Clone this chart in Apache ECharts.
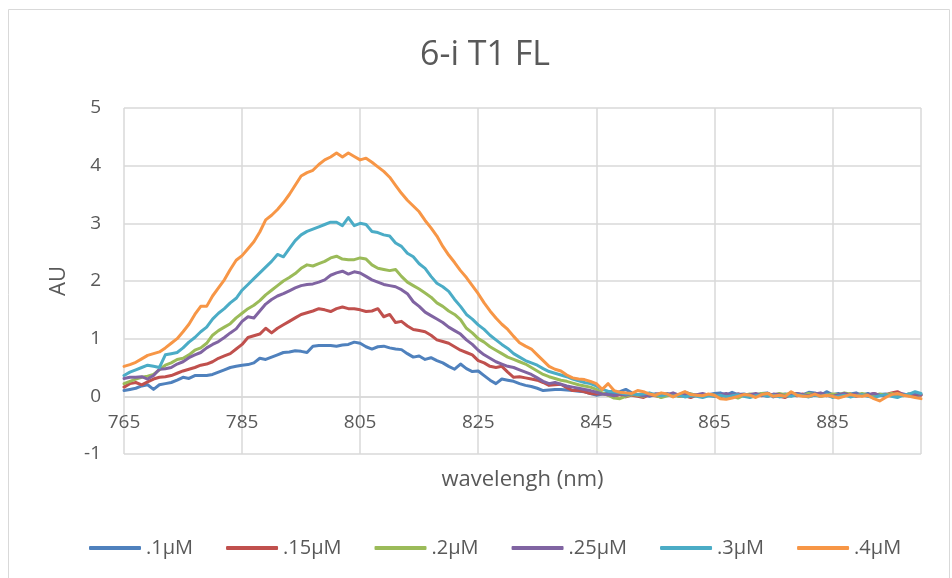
<!DOCTYPE html>
<html>
<head>
<meta charset="utf-8">
<script src="https://cdn.jsdelivr.net/npm/echarts@6/dist/echarts.min.js"></script>
<style>
html,body{margin:0;padding:0;background:#fff;}
#chart{width:952px;height:578px;}
</style>
</head>
<body>
<div id="chart"></div>
<script>
// wavelengths 765..900 nm, 1 nm steps
const waveStart = 765, waveEnd = 900;
const wavelengths = [];
for (let w = waveStart; w <= waveEnd; w++) wavelengths.push(w);

const seriesNames = ['.1\u03bcM', '.15\u03bcM', '.2\u03bcM', '.25\u03bcM', '.3\u03bcM', '.4\u03bcM'];
const seriesColors = ['#4F81BD', '#C0504D', '#9BBB59', '#8064A2', '#4BACC6', '#F79646'];

const c01 = [
  0.10,0.12,0.14,0.18,0.20,0.12,0.20,0.22,0.24,0.28,
  0.33,0.31,0.36,0.36,0.36,0.38,0.42,0.46,0.50,0.52,
  0.54,0.55,0.58,0.66,0.64,0.68,0.72,0.76,0.77,0.79,
  0.78,0.76,0.87,0.88,0.88,0.88,0.87,0.89,0.90,0.94,
  0.92,0.86,0.82,0.86,0.87,0.84,0.82,0.81,0.74,0.68,
  0.70,0.64,0.67,0.62,0.58,0.52,0.47,0.56,0.48,0.43,
  0.44,0.36,0.28,0.22,0.30,0.28,0.26,0.22,0.19,0.17,
  0.14,0.10,0.11,0.12,0.12,0.11,0.10,0.09,0.08,0.05,
  0.02,0.04,0.06,0.05,0.08,0.12,0.06,0.02,0.03,0.00,
  0.04,0.02,0.05,0.01,0.03,0.07,0.04,0.02,0.00,0.03,
  0.05,0.06,0.02,0.07,0.03,0.04,0.02,0.00,0.05,0.06,
  -0.01,0.02,0.04,0.01,0.05,0.03,0.07,0.06,0.02,0.08,
  0.03,0.05,0.01,0.04,0.06,0.02,0.05,0.00,0.03,0.04,
  0.01,0.06,0.02,0.04,0.00,0.03
];
const c015 = [
  0.16,0.22,0.24,0.20,0.25,0.30,0.33,0.34,0.36,0.40,
  0.44,0.47,0.50,0.54,0.56,0.60,0.66,0.70,0.74,0.82,
  0.90,1.02,1.05,1.08,1.18,1.10,1.18,1.24,1.30,1.36,
  1.42,1.45,1.48,1.52,1.50,1.47,1.52,1.55,1.52,1.52,
  1.50,1.47,1.48,1.52,1.38,1.42,1.28,1.30,1.22,1.16,
  1.14,1.12,1.06,0.98,0.95,0.92,0.86,0.80,0.76,0.72,
  0.62,0.58,0.52,0.50,0.52,0.42,0.33,0.34,0.32,0.30,
  0.28,0.24,0.19,0.20,0.21,0.15,0.10,0.10,0.08,0.05,
  0.04,0.05,0.02,0.00,0.03,-0.01,0.02,0.00,-0.02,0.03,
  0.01,-0.01,0.02,0.04,0.00,0.01,-0.02,0.02,0.00,0.03,
  0.01,-0.01,0.02,0.00,0.04,0.02,-0.01,0.03,0.01,0.05,
  0.02,0.00,-0.02,0.03,0.01,0.04,0.00,0.02,0.05,0.01,
  0.03,-0.01,0.02,0.04,0.00,0.02,0.01,0.05,0.02,0.03,
  0.06,0.08,0.03,0.01,0.04,0.02
];
const c02 = [
  0.22,0.26,0.30,0.33,0.35,0.38,0.46,0.54,0.58,0.64,
  0.66,0.72,0.80,0.84,0.92,1.06,1.14,1.20,1.26,1.36,
  1.44,1.52,1.58,1.66,1.76,1.84,1.92,2.00,2.06,2.13,
  2.22,2.28,2.26,2.30,2.34,2.40,2.43,2.38,2.37,2.37,
  2.40,2.38,2.28,2.22,2.20,2.18,2.20,2.08,1.98,1.92,
  1.86,1.79,1.72,1.62,1.56,1.48,1.42,1.33,1.18,1.10,
  1.00,0.94,0.86,0.80,0.74,0.68,0.64,0.60,0.56,0.50,
  0.44,0.38,0.34,0.31,0.28,0.26,0.23,0.20,0.18,0.16,
  0.12,0.06,0.02,-0.03,-0.04,0.00,0.03,0.02,0.00,0.04,
  0.02,-0.02,0.01,0.03,0.00,0.02,0.04,0.01,0.00,0.03,
  0.02,0.00,0.03,0.01,-0.03,0.02,0.04,0.03,0.05,0.04,
  0.02,0.05,0.03,0.06,0.04,0.02,0.05,0.03,0.00,0.02,
  0.04,0.03,0.06,0.04,0.02,0.05,0.03,0.01,0.04,0.02,
  0.05,0.03,0.01,0.04,0.06,0.03
];
const c025 = [
  0.31,0.33,0.33,0.34,0.30,0.36,0.47,0.48,0.50,0.56,
  0.60,0.67,0.72,0.76,0.84,0.90,0.95,1.02,1.10,1.17,
  1.30,1.38,1.36,1.48,1.60,1.68,1.74,1.78,1.83,1.88,
  1.92,1.94,1.95,1.98,2.02,2.10,2.14,2.17,2.12,2.16,
  2.14,2.08,2.02,1.98,1.94,1.92,1.90,1.85,1.78,1.64,
  1.56,1.46,1.40,1.34,1.28,1.20,1.14,1.08,0.98,0.90,
  0.80,0.72,0.66,0.60,0.56,0.52,0.50,0.46,0.42,0.38,
  0.32,0.26,0.22,0.24,0.21,0.18,0.16,0.14,0.12,0.10,
  0.07,0.04,0.03,0.01,0.04,0.02,0.05,0.03,0.01,0.02,
  0.04,0.05,0.03,0.06,0.02,0.04,0.01,0.03,0.05,0.02,
  0.00,0.03,0.05,0.02,0.04,0.01,0.03,0.05,0.02,0.00,
  0.04,0.03,0.01,0.02,0.05,0.03,0.01,0.04,0.06,0.02,
  0.00,0.03,0.05,0.02,0.04,0.01,0.03,0.05,0.02,0.00,
  0.03,0.05,0.04,0.02,0.05,0.03
];
const c03 = [
  0.36,0.42,0.46,0.50,0.54,0.52,0.50,0.72,0.74,0.76,
  0.84,0.94,1.02,1.12,1.20,1.34,1.44,1.52,1.62,1.70,
  1.84,1.94,2.04,2.14,2.24,2.34,2.46,2.42,2.56,2.70,
  2.80,2.86,2.90,2.94,2.98,3.02,3.02,2.96,3.10,2.96,
  3.00,2.98,2.86,2.84,2.80,2.78,2.66,2.60,2.48,2.42,
  2.30,2.22,2.08,1.96,1.90,1.82,1.68,1.56,1.42,1.34,
  1.24,1.16,1.06,0.98,0.90,0.83,0.74,0.68,0.62,0.58,
  0.54,0.48,0.43,0.40,0.37,0.34,0.30,0.27,0.24,0.22,
  0.18,0.12,0.09,0.08,0.06,0.04,0.05,0.03,0.04,0.06,
  0.03,0.01,0.03,0.00,0.02,-0.01,0.01,0.00,-0.02,0.01,
  0.00,0.02,-0.01,0.01,0.03,0.00,-0.02,0.01,0.03,0.00,
  0.02,-0.01,0.01,0.00,0.03,0.01,-0.01,0.02,0.00,0.03,
  -0.02,0.00,0.02,-0.01,0.01,0.03,0.00,-0.02,0.01,0.03,
  0.00,-0.02,0.02,0.04,0.08,0.05
];
const c04 = [
  0.52,0.55,0.59,0.65,0.71,0.74,0.77,0.84,0.92,1.00,
  1.12,1.25,1.42,1.56,1.56,1.74,1.88,2.02,2.20,2.36,
  2.44,2.56,2.68,2.85,3.06,3.14,3.24,3.36,3.50,3.66,
  3.82,3.88,3.92,4.02,4.10,4.15,4.22,4.15,4.22,4.16,
  4.10,4.13,4.06,3.98,3.90,3.80,3.66,3.52,3.40,3.30,
  3.20,3.05,2.92,2.78,2.60,2.45,2.32,2.18,2.06,1.92,
  1.78,1.62,1.48,1.36,1.25,1.16,1.04,0.93,0.87,0.82,
  0.72,0.62,0.52,0.47,0.44,0.37,0.32,0.30,0.29,0.26,
  0.22,0.12,0.22,0.10,0.07,0.06,0.05,0.10,0.08,0.04,
  0.02,0.06,0.04,-0.01,0.04,0.08,0.03,0.02,0.01,0.04,
  0.02,-0.04,-0.05,-0.03,0.00,0.03,0.02,-0.02,0.03,0.05,
  0.00,0.02,0.00,0.08,0.02,0.00,0.00,0.04,0.00,0.02,
  0.00,-0.03,0.00,0.03,0.01,0.00,0.02,-0.04,-0.08,-0.02,
  0.03,0.05,0.02,0.00,-0.02,-0.04
];

const allValues = [c01, c015, c02, c025, c03, c04];

const yMin = -1, yMax = 5;
const FONT = '"Open Sans", "Noto Sans", sans-serif';
const TXT = '#595959';
const GRID = { left: 124, right: 31, top: 108, bottom: 124 };
// the x axis sits at y = 0: move it up from the bottom by one y-unit
const plotH = 578 - GRID.top - GRID.bottom;
const xAxisOffset = -plotH * (0 - yMin) / (yMax - yMin);

const chart = echarts.init(document.getElementById('chart'), null, { renderer: 'canvas' });

const series = allValues.map((vals, i) => ({
  name: seriesNames[i],
  type: 'line',
  data: wavelengths.map((w, j) => [w, vals[j]]),
  showSymbol: false,
  symbol: 'none',
  smooth: false,
  lineStyle: { width: 3, color: seriesColors[i], cap: 'round', join: 'round' },
  itemStyle: { color: seriesColors[i] },
  emphasis: { disabled: true },
  animation: false
}));

chart.setOption({
  animation: false,
  backgroundColor: '#ffffff',
  graphic: [{
    type: 'rect',
    shape: { x: 8.5, y: 9.5, width: 941, height: 600 },
    style: { fill: 'none', stroke: '#d9d9d9', lineWidth: 1 },
    silent: true,
    z: -1
  }],
  title: {
    text: '6-i T1 FL',
    left: 415,
    top: 33,
    padding: 5,
    textStyle: { fontFamily: FONT, fontSize: 34, fontWeight: 'normal', color: TXT }
  },
  legend: {
    data: seriesNames,
    left: 84,
    top: 533,
    itemWidth: 52,
    itemHeight: 4,
    itemGap: 33,
    icon: 'roundRect',
    textStyle: { fontFamily: FONT, fontSize: 20, color: TXT }
  },
  grid: Object.assign({ containLabel: false }, GRID),
  xAxis: {
    type: 'value',
    min: waveStart,
    max: waveEnd,
    interval: 20,
    offset: xAxisOffset,
    name: 'wavelengh (nm)',
    nameLocation: 'middle',
    nameGap: 72,
    nameTextStyle: { fontFamily: FONT, fontSize: 22, color: TXT },
    axisLine: { onZero: false, lineStyle: { color: '#d9d9d9', width: 1.5 } },
    axisTick: { show: false },
    axisLabel: { fontFamily: FONT, fontSize: 19, color: TXT, margin: 17, showMaxLabel: false },
    splitLine: { show: true, lineStyle: { color: '#d9d9d9', width: 1.5 } }
  },
  yAxis: {
    type: 'value',
    min: yMin,
    max: yMax,
    interval: 1,
    name: 'AU',
    nameLocation: 'middle',
    nameGap: 54,
    nameTextStyle: { fontFamily: FONT, fontSize: 22, color: TXT },
    axisLine: { show: false },
    axisTick: { show: false },
    axisLabel: { fontFamily: FONT, fontSize: 19, color: TXT, margin: 23 },
    splitLine: { show: true, lineStyle: { color: '#d9d9d9', width: 1.5 } }
  },
  series: series
});
</script>
</body>
</html>
